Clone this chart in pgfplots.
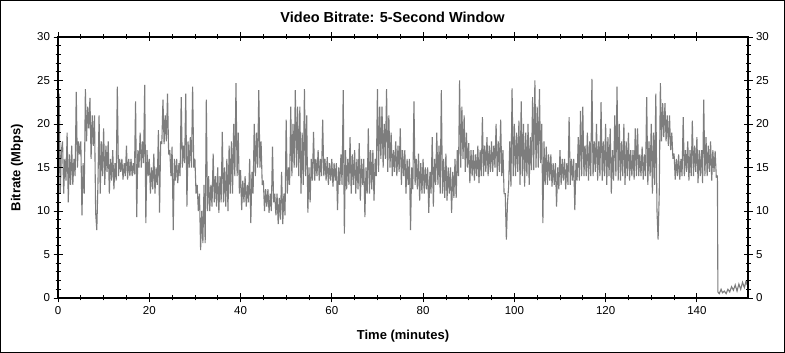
\documentclass[border=0pt]{standalone}
\usepackage{pgfplots}
\pgfplotsset{compat=1.18}
\usepackage{fontspec}
\setmainfont{Liberation Sans}
\definecolor{linegray}{RGB}{125,125,125}
\begin{document}
\begin{tikzpicture}[x=1pt,y=1pt]
\useasboundingbox (0,0) rectangle (785,353);
\fill[white] (0,0) rectangle (785,353);
\draw[black, line width=1.2pt] (0.6,0.6) rectangle (784.4,352.4);
\pgfplotsset{
  myax/.style={
    at={(58pt,55pt)}, anchor=south west,
    scale only axis, width=690pt, height=261pt,
    xmin=0, xmax=151.2, ymin=0, ymax=30,
    xtick={0,20,...,140}, ytick={0,5,...,30},
    minor x tick num=3, minor y tick num=4,
    tick align=center,
    major tick length=9pt, minor tick length=5pt,
    every tick/.style={black, line width=0.8pt},
    axis line style={black, line width=1.2pt},
    /pgf/number format/assume math mode=true,
    tick label style={font=\fontsize{11.5}{13}\selectfont},
  }
}
\begin{axis}[myax,
  xticklabel pos=lower, yticklabel pos=left,
  xtick pos=both, ytick pos=both]
\addplot[linegray, line width=1.1pt, line join=miter, miter limit=4] coordinates {
(0,0.5)(0.25,23.5)(0.5,12)(0.75,17)
(1,18)(1.25,12)(1.5,16)(1.75,13.5)
(2,19)(2.25,11)(2.5,16.5)(2.75,13)
(3,17.5)(3.25,13)(3.5,16)(3.75,14)
(4,23.7)(4.25,15)(4.5,18)(4.75,16.5)
(5,18)(5.25,9.5)(5.5,15.5)(5.75,12)
(6,24)(6.25,18)(6.5,22)(6.75,19.5)
(7,23)(7.25,16)(7.5,21)(7.75,17.5)
(8,21)(8.25,9.8)(8.5,7.8)(8.75,13)
(9,21)(9.25,12)(9.5,18)(9.75,14)
(10,19.5)(10.25,13)(10.5,17.5)(10.75,14.5)
(11,18)(11.25,12)(11.5,16)(11.75,13.5)
(12,17)(12.25,12.5)(12.5,15.5)(12.75,13.5)
(13,24.3)(13.25,14)(13.5,16)(13.75,14.5)
(14,16)(14.25,13.6)(14.5,15.5)(14.75,14)
(15,17.5)(15.25,13.6)(15.5,16)(15.75,14)
(16,16)(16.25,14)(16.5,15.5)(16.75,14.2)
(17,22.6)(17.25,9.3)(17.5,17)(17.75,15)
(18,19)(18.25,15)(18.5,18)(18.75,15.5)
(19,24.5)(19.25,8.6)(19.5,17)(19.75,14)
(20,16)(20.25,12)(20.5,15)(20.75,12.5)
(21,16.6)(21.25,12)(21.5,15)(21.75,13)
(22,19.3)(22.25,9.8)(22.5,18)(22.75,17.7)
(23,22.8)(23.25,17.7)(23.5,21)(23.75,18)
(24,23.5)(24.25,16.5)(24.5,17)(24.75,14)
(25,17.4)(25.25,7.8)(25.5,16)(25.75,13.5)
(26,16)(26.25,13.2)(26.5,15.5)(26.75,14)
(27,23.1)(27.25,15)(27.5,17.5)(27.75,15.5)
(28,23.5)(28.25,10.5)(28.5,18)(28.75,15)
(29,18.5)(29.25,15)(29.5,24.3)(29.75,15)
(30,16)(30.25,12)(30.5,13)(30.75,10)
(31,12)(31.25,5.5)(31.5,10)(31.75,6.3)
(32,13)(32.25,6.3)(32.5,22.8)(32.75,10)
(33,14)(33.25,10)(33.5,13)(33.75,10.5)
(34,16.6)(34.25,11)(34.5,14)(34.75,10.5)
(35,15)(35.25,9.8)(35.5,14)(35.75,11)
(36,19.1)(36.25,11)(36.5,15)(36.75,10.5)
(37,16)(37.25,10)(37.5,17.5)(37.75,12)
(38,18)(38.25,12)(38.5,20)(38.75,14)
(39,24.7)(39.25,14)(39.5,19)(39.75,12)
(40,14.7)(40.25,10.1)(40.5,13.5)(40.75,11)
(41,14)(41.25,10.5)(41.5,13)(41.75,11)
(42,16)(42.25,8.6)(42.5,14.5)(42.75,12)
(43,20)(43.25,14)(43.5,19)(43.75,15)
(44,23.9)(44.25,15)(44.5,18)(44.75,13)
(45,13.5)(45.25,10)(45.5,12.5)(45.75,10.5)
(46,12.5)(46.25,9.8)(46.5,12)(46.75,10)
(47,17.4)(47.25,11)(47.5,12)(47.75,9.5)
(48,12)(48.25,8.5)(48.5,11.5)(48.75,9)
(49,14.5)(49.25,8.5)(49.5,12)(49.75,9.5)
(50,20.5)(50.25,12)(50.5,15)(50.75,13)
(51,22)(51.25,14)(51.5,20)(51.75,15)
(52,23.9)(52.25,15)(52.5,22)(52.75,14)
(53,22)(53.25,12)(53.5,19)(53.75,13)
(54,24)(54.25,14)(54.5,21)(54.75,9.8)
(55,15)(55.25,11)(55.5,16)(55.75,13.5)
(56,19.1)(56.25,13.5)(56.5,16)(56.75,14)
(57,17)(57.25,13.5)(57.5,16)(57.75,14)
(58,20.5)(58.25,14)(58.5,16)(58.75,13.5)
(59,16.2)(59.25,13)(59.5,15.5)(59.75,13.5)
(60,16)(60.25,12.8)(60.5,15.5)(60.75,13.5)
(61,15.5)(61.25,10.1)(61.5,15)(61.75,13)
(62,16.5)(62.25,13)(62.5,23.9)(62.75,7.4)
(63,17)(63.25,12.5)(63.5,16)(63.75,13)
(64,18.5)(64.25,12)(64.5,16.5)(64.75,13)
(65,17)(65.25,12)(65.5,16)(65.75,12.5)
(66,17.8)(66.25,11.2)(66.5,16)(66.75,13)
(67,16)(67.25,9.3)(67.5,15)(67.75,12)
(68,19.5)(68.25,12)(68.5,17)(68.75,12.5)
(69,17)(69.25,11.2)(69.5,16)(69.75,14)
(70,24)(70.25,14.5)(70.5,22)(70.75,16)
(71,22)(71.25,15)(71.5,20)(71.75,16)
(72,24)(72.25,14.5)(72.5,21)(72.75,15)
(73,19)(73.25,14)(73.5,17)(73.75,14.5)
(74,18)(74.25,14)(74.5,17.5)(74.75,14.5)
(75,19.5)(75.25,13)(75.5,17)(75.75,14)
(76,17)(76.25,12)(76.5,16)(76.75,13)
(77,16)(77.25,7.8)(77.5,15)(77.75,12.5)
(78,22.6)(78.25,13)(78.5,16)(78.75,12.5)
(79,16.6)(79.25,11.2)(79.5,15.5)(79.75,12)
(80,16)(80.25,12)(80.5,15)(80.75,12.5)
(81,15)(81.25,9.8)(81.5,14.5)(81.75,12)
(82,18.5)(82.25,10.5)(82.5,16)(82.75,13)
(83,19)(83.25,13)(83.5,17.5)(83.75,12)
(84,23.9)(84.25,12)(84.5,16)(84.75,11.5)
(85,16.6)(85.25,11.2)(85.5,15)(85.75,12)
(86,15)(86.25,9.8)(86.5,14.5)(86.75,11.5)
(87,16)(87.25,11.5)(87.5,17)(87.75,14)
(88,25)(88.25,15)(88.5,22)(88.75,16)
(89,21)(89.25,14.5)(89.5,19)(89.75,15)
(90,17.8)(90.25,13.2)(90.5,17)(90.75,14)
(91,17)(91.25,13.5)(91.5,16.5)(91.75,14)
(92,17.5)(92.25,13.2)(92.5,17)(92.75,14)
(93,20.8)(93.25,14)(93.5,17.5)(93.75,14.5)
(94,18.5)(94.25,14)(94.5,17.5)(94.75,14.5)
(95,18)(95.25,14.5)(95.5,17.5)(95.75,15)
(96,20)(96.25,14)(96.5,18)(96.75,14.5)
(97,20.5)(97.25,14)(97.5,17)(97.75,12)
(98,12)(98.25,6.7)(98.5,11)(98.75,12.8)
(99,18)(99.25,12.8)(99.5,24.1)(99.75,14)
(100,20)(100.25,14)(100.5,19)(100.75,14.5)
(101,20.4)(101.25,13)(101.5,22.6)(101.75,14)
(102,20)(102.25,12.8)(102.5,19)(102.75,14)
(103,20)(103.25,13)(103.5,18.5)(103.75,14.7)
(104,23.1)(104.25,14.7)(104.5,25)(104.75,15)
(105,22)(105.25,15)(105.5,24)(105.75,15.5)
(106,20)(106.25,8.6)(106.5,18)(106.75,13)
(107,17.4)(107.25,13)(107.5,16.5)(107.75,13.5)
(108,16.5)(108.25,12.8)(108.5,15.5)(108.75,13)
(109,15.5)(109.25,10.5)(109.5,15)(109.75,12.5)
(110,17)(110.25,13)(110.5,16)(110.75,13.5)
(111,16)(111.25,12.5)(111.5,15.5)(111.75,13)
(112,20.8)(112.25,13)(112.5,16)(112.75,13.5)
(113,16)(113.25,10.1)(113.5,15.5)(113.75,13.5)
(114,18.5)(114.25,13.5)(114.5,21.5)(114.75,14)
(115,22)(115.25,14)(115.5,17.5)(115.75,14)
(116,19)(116.25,13.5)(116.5,18)(116.75,14)
(117,25.2)(117.25,14)(117.5,18)(117.75,14.5)
(118,20)(118.25,13.5)(118.5,18)(118.75,14)
(119,22.5)(119.25,13.5)(119.5,18)(119.75,14)
(120,20)(120.25,13)(120.5,18.5)(120.75,14)
(121,19.5)(121.25,12)(121.5,17)(121.75,13.5)
(122,21)(122.25,14)(122.5,24.3)(122.75,13.5)
(123,20)(123.25,13.5)(123.5,18)(123.75,14)
(124,20)(124.25,13)(124.5,18)(124.75,14)
(125,19)(125.25,13.5)(125.5,17)(125.75,14)
(126,17)(126.25,13.6)(126.5,19.5)(126.75,14)
(127,19.5)(127.25,14)(127.5,16.5)(127.75,14)
(128,17.4)(128.25,13.6)(128.5,16.5)(128.75,14)
(129,23.1)(129.25,13)(129.5,18)(129.75,14)
(130,20)(130.25,12)(130.5,19)(130.75,13)
(131,23.5)(131.25,10.1)(131.5,6.7)(131.75,12)
(132,24.7)(132.25,18)(132.5,22.4)(132.75,18.5)
(133,22.4)(133.25,18)(133.5,21)(133.75,17.5)
(134,21)(134.25,17)(134.5,19)(134.75,16)
(135,16.6)(135.25,13.6)(135.5,16)(135.75,14)
(136,16.5)(136.25,13.6)(136.5,16)(136.75,14)
(137,20.8)(137.25,14)(137.5,17)(137.75,14.5)
(138,18)(138.25,13.5)(138.5,17)(138.75,14)
(139,20.4)(139.25,14)(139.5,17.5)(139.75,14.5)
(140,18.5)(140.25,13.2)(140.5,17)(140.75,14)
(141,17)(141.25,13.2)(141.5,22.8)(141.75,14)
(142,18.5)(142.25,14)(142.5,17.5)(142.75,14.5)
(143,18)(143.25,13.5)(143.5,17)(143.75,14.5)
(144,16.9)(144.25,13.9)(144.5,14)
(144.6,0.7)(144.9,0.5)(145.3,1.0)(145.6,0.6)(146,0.8)(146.4,0.5)
(146.8,1.0)(147.2,0.7)(147.6,1.3)(148,0.9)(148.4,1.5)(148.8,0.8)
(149.2,1.6)(149.6,1.0)(150,1.8)(150.4,1.2)(150.8,2.0)(151,1.5)
};
\end{axis}
\begin{axis}[myax, hide x axis,
  yticklabel pos=right, ytick pos=both]
\end{axis}
\node[font=\bfseries\fontsize{14.5}{17}\selectfont] at (392.5,336) {Video Bitrate: 5-Second Window};
\node[font=\bfseries\fontsize{13}{15}\selectfont] at (403,17) {Time (minutes)};
\node[font=\bfseries\fontsize{13}{15}\selectfont, rotate=90] at (17,185.5) {Bitrate (Mbps)};
\end{tikzpicture}
\end{document}
